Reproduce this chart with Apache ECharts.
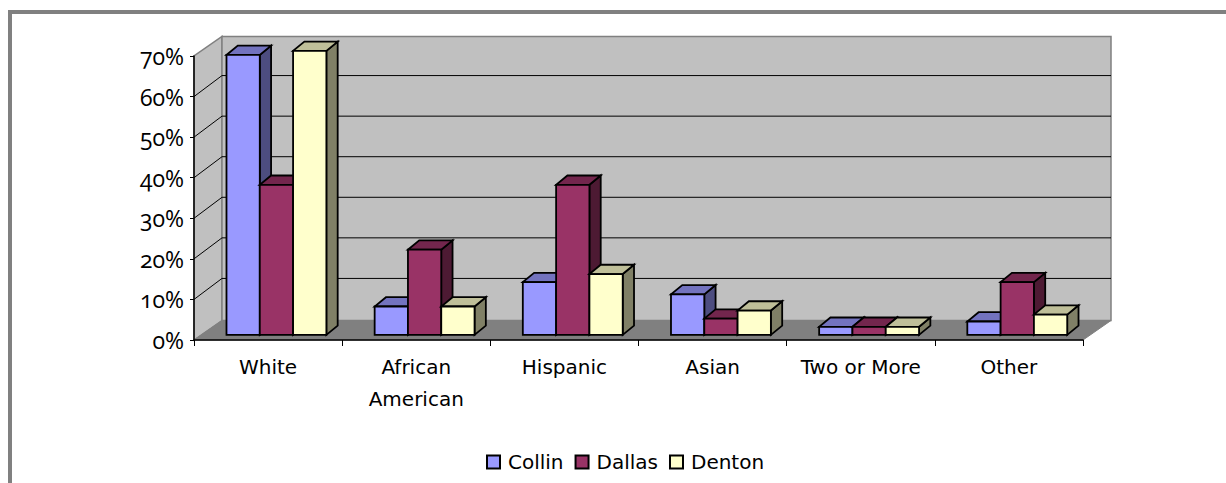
<!DOCTYPE html>
<html>
<head>
<meta charset="utf-8">
<style>
  html, body { margin: 0; padding: 0; background: #fff; overflow: hidden; }
  #frame { position: absolute; left: 8px; top: 10px; right: -10px; bottom: -10px; border-top: 4px solid #808080; border-left: 4px solid #808080; }
  #chart { position: absolute; left: 0; top: 0; width: 1226px; height: 483px; }
  svg text { font-variant-numeric: oldstyle-nums !important; font-feature-settings: "onum" 1 !important; }
</style>
<script src="https://cdn.jsdelivr.net/npm/echarts@6/dist/echarts.min.js"></script>
</head>
<body>
<div id="frame"></div>
<div id="chart"></div>
<script>
const categories = ['White', 'African\nAmerican', 'Hispanic', 'Asian', 'Two or More', 'Other'];
const collin = [69, 7, 13, 10, 2, 3.3];
const dallas = [37, 21, 37, 4, 2, 13];
const denton = [70, 7, 15, 6, 2, 5];
const yTicks = [10, 20, 30, 40, 50, 60];

// depth of the box, and of the bars inside it
const boxDx = 28, boxDy = -19.5, gridDy = -21;
const barDx = 11.3, barDy = -9.3;
const barW = 33.3;
const barLine = 1.8;

const lineFont = 'DejaVu Sans';
const colors = {
  Collin: { front: '#9999FF', top: '#7373BF', side: '#4D4D80' },
  Dallas: { front: '#993366', top: '#73264D', side: '#4D1A33' },
  Denton: { front: '#FFFFCC', top: '#BFBF99', side: '#808066' }
};

const poly = (pts, fill, stroke, lw) => ({
  type: 'polygon',
  shape: { points: pts },
  style: { fill: fill, stroke: stroke, lineWidth: lw, lineJoin: 'miter' }
});

// floor, side wall, back wall, gridlines
const renderBox = (params, api) => {
  const c = params.coordSys;
  const x0 = c.x, x1 = c.x + c.width, yB = c.y + c.height, yT = c.y;
  const kids = [
    poly([[x0, yB], [x0 + boxDx, yB + boxDy], [x0 + boxDx, yT + boxDy], [x0, yT]], '#C0C0C0', '#808080', 1.5),
    poly([[x0 + boxDx, yB + boxDy], [x1 + boxDx, yB + boxDy], [x1 + boxDx, yT + boxDy], [x0 + boxDx, yT + boxDy]], '#C0C0C0', '#808080', 1.5),
    poly([[x0, yB], [x1, yB], [x1 + boxDx, yB + boxDy], [x0 + boxDx, yB + boxDy]], '#808080', '#808080', 1)
  ];
  yTicks.forEach(t => {
    const y = api.coord([0, t])[1];
    kids.push({ type: 'line', shape: { x1: x0, y1: y, x2: x0 + boxDx, y2: y + gridDy }, style: { stroke: '#000', lineWidth: 1 } });
    kids.push({ type: 'line', shape: { x1: x0 + boxDx, y1: y + gridDy, x2: x1 + boxDx, y2: y + gridDy }, style: { stroke: '#000', lineWidth: 1 } });
  });
  return { type: 'group', children: kids };
};

const makeBars = (name, values, idx) => ({
  name: name,
  type: 'custom',
  z: 4,
  itemStyle: { color: colors[name].front, borderColor: '#000', borderWidth: 2 },
  data: values.map((v, i) => [i, v]),
  encode: { x: 0, y: 1 },
  renderItem: (params, api) => {
    const top = api.coord([api.value(0), api.value(1)]);
    const base = api.coord([api.value(0), 0]);
    // bars stand halfway into the box depth
    const ox = (boxDx - barDx) / 2, oy = (boxDy - barDy) / 2;
    const l = top[0] + (idx - 1.5) * barW + ox, r = l + barW;
    const t = top[1] + oy, b = base[1] + oy;
    const col = colors[name];
    return {
      type: 'group',
      children: [
        poly([[r, b], [r + barDx, b + barDy], [r + barDx, t + barDy], [r, t]], col.side, '#000', barLine),
        poly([[l, t], [r, t], [r + barDx, t + barDy], [l + barDx, t + barDy]], col.top, '#000', barLine),
        poly([[l, t], [r, t], [r, b], [l, b]], col.front, '#000', barLine)
      ]
    };
  }
});

const chart = echarts.init(document.getElementById('chart'), null, { renderer: 'svg' });
chart.setOption({
  animation: false,
  grid: { left: 194, right: 143, top: 56, bottom: 143 },
  legend: {
    left: 481,
    top: 447,
    itemWidth: 13,
    itemHeight: 13,
    itemGap: 11,
    data: ['Collin', 'Dallas', 'Denton'],
    icon: 'rect',
    textStyle: { fontFamily: lineFont, fontSize: 20, color: '#000', padding: [0, 0, 0, 3] }
  },
  xAxis: {
    type: 'category',
    data: categories,
    z: 3,
    axisLine: { lineStyle: { color: '#000', width: 1.5 } },
    axisTick: { show: true, length: 6, lineStyle: { color: '#000', width: 1 } },
    axisLabel: { interval: 0, margin: 11, fontFamily: lineFont, fontSize: 20, color: '#000', lineHeight: 32 },
    splitLine: { show: false }
  },
  yAxis: {
    type: 'value',
    min: 0,
    max: 70,
    interval: 10,
    z: 3,
    axisLine: { show: true, lineStyle: { color: '#000', width: 1.5 } },
    axisTick: { show: true, length: 4, lineStyle: { color: '#000', width: 1 } },
    axisLabel: { formatter: '{value}%', margin: 10, fontFamily: 'Open Sans', fontSize: 23, color: '#000', padding: [4, 0, 0, 0] },
    splitLine: { show: false }
  },
  series: [
    { type: 'custom', z: 1, silent: true, data: [[0, 0]], encode: { x: 0, y: 1 }, renderItem: renderBox },
    makeBars('Collin', collin, 0),
    makeBars('Dallas', dallas, 1),
    makeBars('Denton', denton, 2)
  ]
});
</script>
</body>
</html>
